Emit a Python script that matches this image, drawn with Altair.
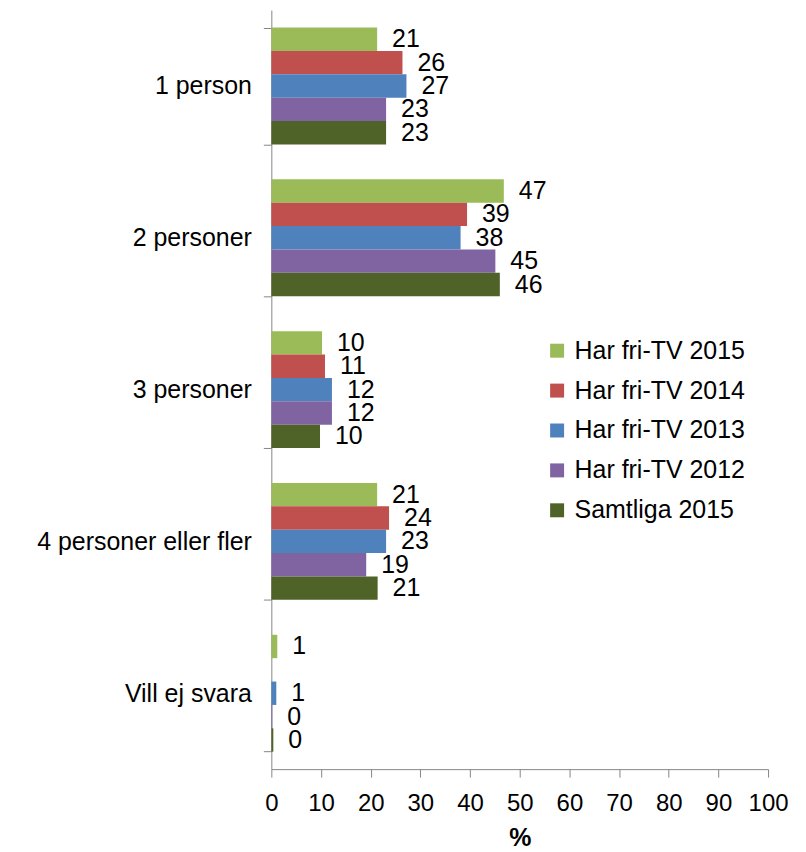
import altair as alt
import pandas as pd

categories = ["1 person", "2 personer", "3 personer", "4 personer eller fler", "Vill ej svara"]
series = ["Har fri-TV 2015", "Har fri-TV 2014", "Har fri-TV 2013", "Har fri-TV 2012", "Samtliga 2015"]
colors = ["#9BBB59", "#C0504D", "#4F81BD", "#8064A2", "#4F6228"]

har_2015 = [21.3, 46.8, 10.2, 21.3, 1.2]
har_2014 = [26.4, 39.4, 10.8, 23.7, None]
har_2013 = [27.2, 38.1, 12.2, 23.1, 1.0]
har_2012 = [23.1, 45.1, 12.2, 19.1, 0.2]
samtliga_2015 = [23.1, 46.0, 9.8, 21.4, 0.4]

values = [har_2015, har_2014, har_2013, har_2012, samtliga_2015]
rows = []
for s, vals in zip(series, values):
    for c, v in zip(categories, vals):
        rows.append({"Kategori": c, "Serie": s, "Värde": v})
df = pd.DataFrame(rows)

FONT = "Liberation Sans"

y_enc = alt.Y("Kategori:N", sort=categories,
              scale=alt.Scale(paddingInner=0.23, paddingOuter=0.115),
              axis=alt.Axis(title=None, labelFontSize=25, labelFont=FONT, labelColor="#000000",
                            tickBand="extent", tickSize=8, tickColor="#868686",
                            domainColor="#868686", labelPadding=12, labelLimit=400, grid=False))
yoff = alt.YOffset("Serie:N", sort=series, scale=alt.Scale(domain=series, paddingInner=0, paddingOuter=0))

bars = alt.Chart(df).mark_bar().encode(
    x=alt.X("Värde:Q", scale=alt.Scale(domain=[0, 100], nice=False),
            axis=alt.Axis(title="%", values=list(range(0, 101, 10)), labelFontSize=24, labelFont=FONT,
                          labelColor="#000000", titleFontSize=25, titleFont=FONT, titleFontWeight="bold",
                          titleColor="#000000", tickSize=8, tickColor="#868686", domainColor="#868686",
                          labelPadding=14, titlePadding=11, grid=False, labelOverlap=False,
                          labelFlush=False)),
    y=y_enc,
    yOffset=yoff,
    color=alt.Color("Serie:N", sort=series, scale=alt.Scale(domain=series, range=colors),
                    legend=alt.Legend(title=None, orient="none", legendX=274, legendY=329,
                                      symbolType="square", symbolSize=196, symbolStrokeWidth=0,
                                      labelFontSize=25, labelFont=FONT, labelColor="#000000",
                                      labelOffset=5, rowPadding=14, labelLimit=400)),
)

labels = alt.Chart(df).transform_filter("isValid(datum['Värde'])").mark_text(
    align="left", baseline="middle", dx=15, fontSize=25, font=FONT, color="#000000"
).encode(
    x="Värde:Q",
    y=alt.Y("Kategori:N", sort=categories),
    yOffset=yoff,
    text=alt.Text("Värde:Q", format=".0f"),
)

chart = alt.layer(bars, labels).properties(
    width=498, height=761,
    background="white",
    autosize=alt.AutoSizeParams(type="none"),
    padding={"left": 264, "top": 1, "right": 30, "bottom": 82},
).configure_view(stroke=None)

chart.save("out.html", embed_options={"renderer": "svg", "actions": False})
